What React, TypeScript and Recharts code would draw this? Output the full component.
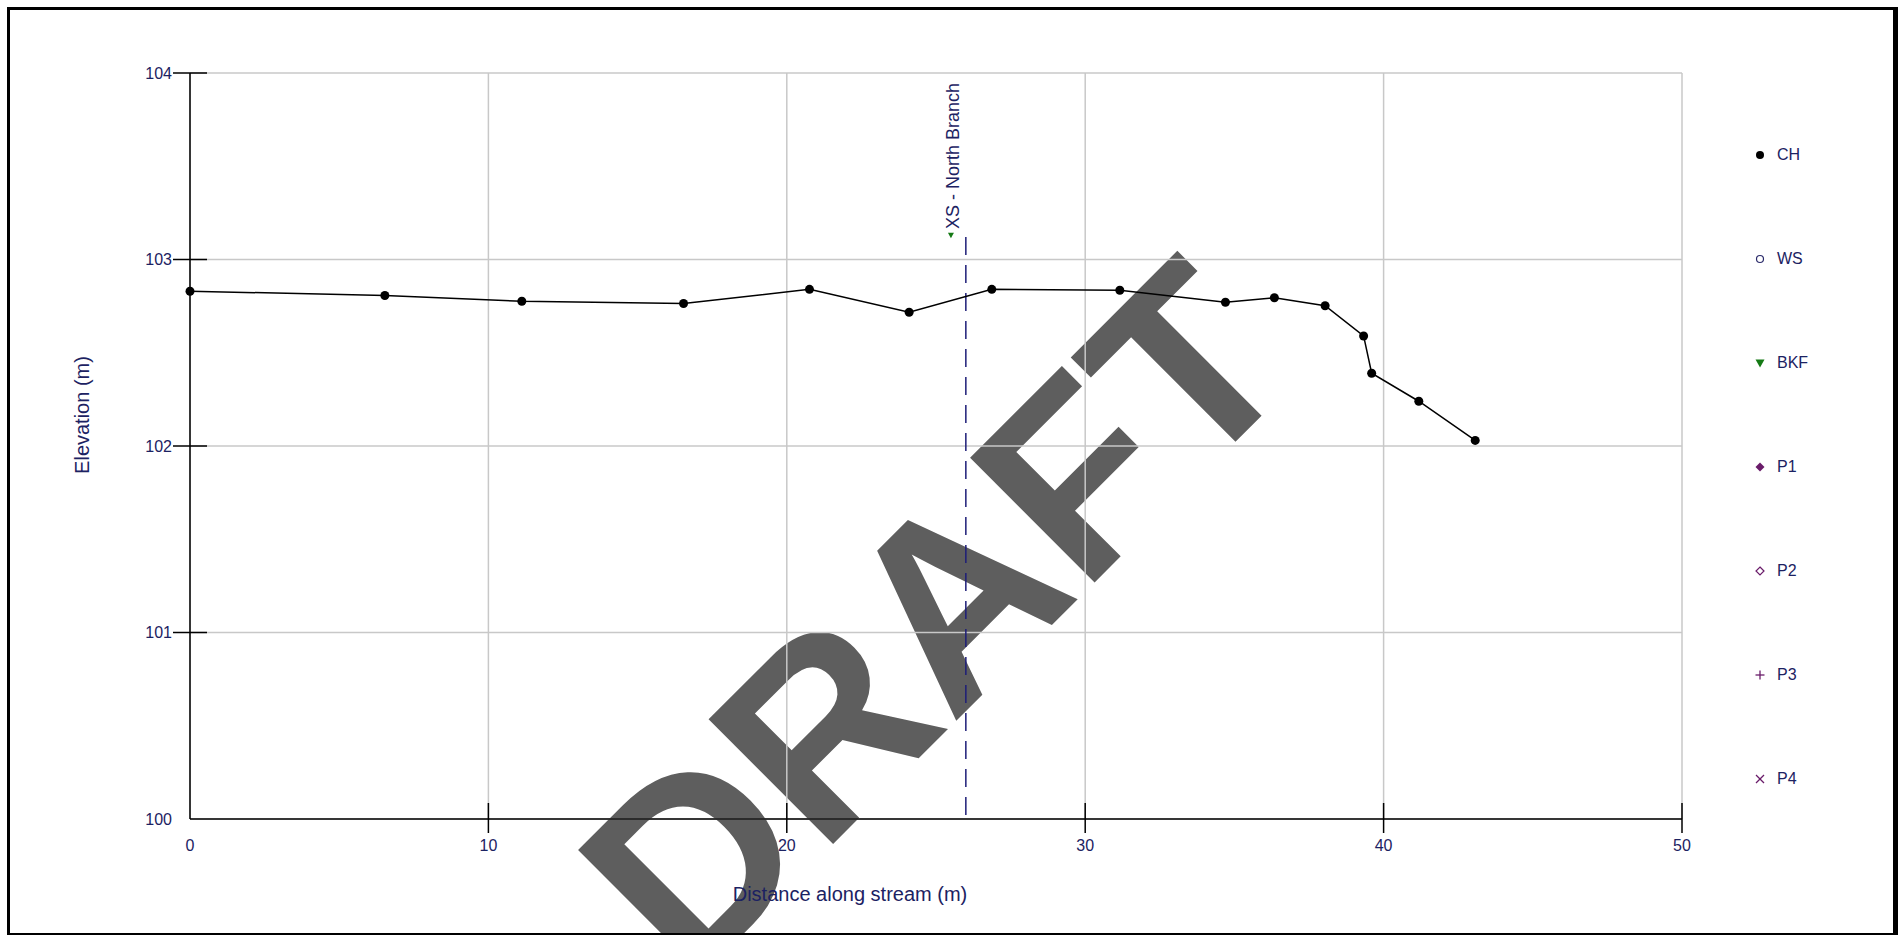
import React from "react";
import {
  CartesianGrid,
  Label,
  ReferenceLine,
  Scatter,
  ScatterChart,
  XAxis,
  YAxis,
} from "recharts";

// Channel bed (CH) survey along the stream
const CH_DIST = [0, 6.53, 11.12, 16.54, 20.76, 24.1, 26.87, 31.16, 34.7, 36.34, 38.04, 39.33, 39.6, 41.18, 43.07];
const CH_ELEV = [102.83, 102.807, 102.776, 102.764, 102.84, 102.717, 102.84, 102.835, 102.771, 102.795, 102.752, 102.59, 102.39, 102.24, 102.03];

// Bankfull marker at the cross-section
const BKF_DIST = [25.5];
const BKF_ELEV = [103.13];

// Cross-section location
const XS_DIST = 26.0;
const XS_TOP = 103.12;
const XS_NAME = "XS - North Branch";

const X_TICKS = [0, 10, 20, 30, 40, 50];
const Y_TICKS = [100, 101, 102, 103, 104];
const LEGEND_ITEMS = ["CH", "WS", "BKF", "P1", "P2", "P3", "P4"];

const FONT = "Arial, 'Liberation Sans', sans-serif";
const NAVY = "#1c2262";
const PURPLE = "#6a1c6a";
const GREEN = "#157a15";

const chData = CH_DIST.map((x, i) => ({ x, y: CH_ELEV[i] }));
const bkfData = BKF_DIST.map((x, i) => ({ x, y: BKF_ELEV[i] }));

function YTick(props: any) {
  const { x, y, payload } = props;
  const isMin = payload.value === Y_TICKS[0];
  return (
    <g>
      {!isMin && <line x1={x - 17} x2={x + 17} y1={y} y2={y} stroke="#000" strokeWidth={1.5} />}
      <text x={x - 18} y={y} dy={5.5} textAnchor="end" fill={NAVY} fontSize={16} fontFamily={FONT}>
        {payload.value}
      </text>
    </g>
  );
}

function XTick(props: any) {
  const { x, y, payload } = props;
  const isMin = payload.value === X_TICKS[0];
  return (
    <g>
      {!isMin && <line x1={x} x2={x} y1={y - 16} y2={y + 14} stroke="#000" strokeWidth={1.5} />}
      <text x={x} y={y + 32} textAnchor="middle" fill={NAVY} fontSize={16} fontFamily={FONT}>
        {payload.value}
      </text>
    </g>
  );
}

function chDot(props: any) {
  return <circle cx={props.cx} cy={props.cy} r={4.5} fill="#000" />;
}

function bkfDot(props: any) {
  const { cx, cy } = props;
  return <polygon points={`${cx - 3},${cy - 2.5} ${cx + 3},${cy - 2.5} ${cx},${cy + 3}`} fill={GREEN} />;
}

function XsLabel(props: any) {
  const vb = props.viewBox || {};
  const top = Math.min(vb.y, vb.y + (vb.height || 0));
  const bx = vb.x - 7;
  const by = top - 8;
  return (
    <text
      transform={`translate(${bx},${by}) rotate(-90)`}
      textAnchor="start"
      fill={NAVY}
      fontSize={18}
      fontFamily={FONT}
    >
      {XS_NAME}
    </text>
  );
}

function LegendMarker({ name }: { name: string }) {
  switch (name) {
    case "CH":
      return <circle cx={6} cy={6} r={4} fill="#000" />;
    case "WS":
      return <circle cx={6} cy={6} r={3.5} fill="none" stroke="#2a2a6a" strokeWidth={1.2} />;
    case "BKF":
      return <polygon points="1.5,2.5 10.5,2.5 6,10.5" fill={GREEN} />;
    case "P1":
      return <polygon points="6,1.5 10.5,6 6,10.5 1.5,6" fill={PURPLE} />;
    case "P2":
      return <polygon points="6,2 10,6 6,10 2,6" fill="none" stroke={PURPLE} strokeWidth={1.2} />;
    case "P3":
      return (
        <g stroke={PURPLE} strokeWidth={1.3}>
          <line x1={1.5} x2={10.5} y1={6} y2={6} />
          <line x1={6} x2={6} y1={1.5} y2={10.5} />
        </g>
      );
    default:
      return (
        <g stroke={PURPLE} strokeWidth={1.2}>
          <line x1={2} x2={10} y1={2} y2={10} />
          <line x1={2} x2={10} y1={10} y2={2} />
        </g>
      );
  }
}

export default function App() {
  return (
    <div
      style={{
        position: "absolute",
        left: 0,
        top: 0,
        width: 1902,
        height: 935,
        background: "#fff",
        overflow: "hidden",
      }}
    >
      {/* watermark sits under the chart */}
      <svg width={1902} height={935} style={{ position: "absolute", left: 0, top: 0 }}>
        <text
          transform="translate(932,615) rotate(-45)"
          y={92}
          textAnchor="middle"
          fontSize={256}
          fontWeight="bold"
          fontFamily={FONT}
          fill="#5e5e5e"
        >
          DRAFT
        </text>
      </svg>

      <div style={{ position: "absolute", left: 0, top: 0 }}>
        <ScatterChart width={1902} height={935} margin={{ top: 73, right: 220, bottom: 0, left: 0 }}>
          <CartesianGrid stroke="#c8c8c8" strokeWidth={1.5} />
          <XAxis
            type="number"
            dataKey="x"
            domain={[0, 50]}
            ticks={X_TICKS}
            interval={0}
            height={116}
            tickSize={0}
            tickMargin={0}
            tickLine={false}
            tick={<XTick />}
            axisLine={{ stroke: "#000", strokeWidth: 1.5 }}
          >
            <Label
              content={() => (
                <text x={850} y={901} textAnchor="middle" fill={NAVY} fontSize={20} fontFamily={FONT}>
                  Distance along stream (m)
                </text>
              )}
            />
          </XAxis>
          <YAxis
            type="number"
            dataKey="y"
            domain={[100, 104]}
            ticks={Y_TICKS}
            interval={0}
            width={190}
            tickSize={0}
            tickMargin={0}
            tickLine={false}
            tick={<YTick />}
            axisLine={{ stroke: "#000", strokeWidth: 1.5 }}
          >
            <Label
              content={() => (
                <text
                  transform="translate(89,415) rotate(-90)"
                  textAnchor="middle"
                  fill={NAVY}
                  fontSize={20}
                  fontFamily={FONT}
                >
                  Elevation (m)
                </text>
              )}
            />
          </YAxis>
          <ReferenceLine
            segment={[
              { x: XS_DIST, y: XS_TOP },
              { x: XS_DIST, y: 100 },
            ]}
            stroke="#1e1e78"
            strokeWidth={1.5}
            strokeDasharray="18 10"
          >
            <Label content={<XsLabel />} />
          </ReferenceLine>
          <Scatter
            name="CH"
            data={chData}
            fill="#000"
            line={{ stroke: "#000", strokeWidth: 1.5 }}
            shape={chDot}
            isAnimationActive={false}
          />
          <Scatter name="BKF" data={bkfData} fill={GREEN} shape={bkfDot} isAnimationActive={false} />
        </ScatterChart>
      </div>

      {/* series legend down the right side */}
      <div style={{ position: "absolute", left: 1754, top: 103, fontFamily: FONT }}>
        {LEGEND_ITEMS.map((name) => (
          <div key={name} style={{ height: 104, display: "flex", alignItems: "center" }}>
            <svg width={12} height={12} style={{ marginRight: 11 }}>
              <LegendMarker name={name} />
            </svg>
            <span style={{ fontSize: 16, color: NAVY }}>{name}</span>
          </div>
        ))}
      </div>

      <div
        style={{
          position: "absolute",
          left: 7,
          top: 7,
          width: 1891,
          height: 930,
          boxSizing: "border-box",
          borderStyle: "solid",
          borderColor: "#000",
          borderWidth: "3px 5px 4px 3px",
        }}
      />
    </div>
  );
}
